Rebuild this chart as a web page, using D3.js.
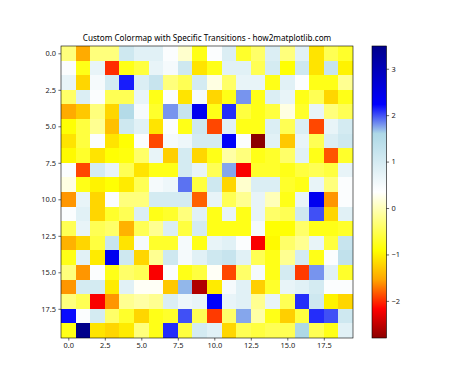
<!DOCTYPE html>
<html><head><meta charset="utf-8">
<script src="https://cdn.jsdelivr.net/npm/d3@7"></script>
<style>html,body{margin:0;padding:0;background:#fff;}svg{display:block;font-family:"Noto Sans",sans-serif;}</style>
</head><body>
<script>
const title = "Custom Colormap with Specific Transitions - how2matplotlib.com";
const cmapColors = ["darkred","red","orange","yellow","white","lightblue","blue","darkblue"];
const cmapStops = [0,0.1,0.2,0.3,0.5,0.7,0.8,1];
const axisTicks = [0,2.5,5,7.5,10,12.5,15,17.5];
const cbarTicks = [-2,-1,0,1,2,3];
const rows = [
 [-0.3,-1.5,-0.3,-0.3,1.1,0.8,0.8,0.4,0.1,-0.8, 0.4,0.9,-0.7,-0.4,0.9,-0.3,0.8,-1.1,-0.5,-0.7],
 [0.4,-0.8,0.7,-2.0,-0.8,-0.6,0.7,0.5,1.1,-1.1, -0.8,0.8,0.8,-0.5,1.0,-0.9,1.1,-1.1,1.2,-1.0],
 [0.7,-1.2,0.5,1.0,2.15,0.9,1.2,-0.3,-0.5,1.0, 0.2,-0.4,0.7,0.7,-0.8,0.8,0.4,-0.8,-0.8,-0.2],
 [-0.4,0.9,0.4,-0.5,-0.5,0.7,-0.8,0.4,-1.1,0.5, -1.2,-0.8,1.8,-0.8,0.9,0.7,-0.8,-0.5,-1.2,-0.8],
 [-1.5,-1.3,-0.3,-1.2,1.5,0.5,-0.7,1.8,1.2,2.4, -0.8,2.1,-0.6,-0.8,-0.6,0.2,-0.7,0.7,-0.3,-0.5],
 [-0.9,-0.6,-0.2,-1.35,1.1,0.8,-1.1,0.4,-0.8,1.1, -1.9,0.8,-0.8,-0.8,0.9,-0.5,0.9,-1.9,0.7,1.0],
 [-1.1,-0.6,0.4,-1.1,-0.9,0.4,-1.9,0.5,0.6,1.0, 1.0,2.3,0.4,-2.8,0.8,-1.3,0.7,-0.5,0.9,1.1],
 [-0.95,-0.7,-1.1,-0.9,-0.85,-0.4,0.7,-1.25,1.0,-1.2, -0.8,-0.1,-0.3,-0.8,-0.7,-0.4,0.8,-0.8,-1.85,-0.7],
 [0.4,-1.9,1.0,0.7,-0.5,-1.1,-0.8,-0.8,1.0,0.7, -0.5,1.75,-2.2,-0.7,-0.7,-0.8,-0.6,-0.5,-0.6,0.7],
 [0.2,-0.8,-1.0,-0.9,-1.05,-0.5,0.5,0.6,1.9,-0.6, 1.1,-1.2,0.1,0.9,0.9,-0.7,-0.8,0.7,-0.3,0.4],
 [-1.6,0.7,-1.2,0.4,-0.3,-0.3,1.0,1.0,1.0,-1.8, 0.7,-0.5,-0.2,0.7,0.0,-0.8,0.7,2.4,-1.6,0.4],
 [0.4,0.8,-1.2,-0.7,-0.5,0.9,-0.8,-0.7,-0.3,0.8, -0.8,0.7,-0.8,0.7,-0.4,-0.5,1.1,2.0,-1.2,0.8],
 [-0.5,0.7,-0.5,-0.4,-1.45,-0.5,-0.2,0.9,-0.6,1.0, -0.8,-0.8,-0.8,0.5,-0.9,-0.9,-0.4,-0.8,-0.8,-0.7],
 [-1.45,-1.2,-0.6,1.2,-1.1,0.5,-0.7,-0.7,0.5,-0.8, 0.7,0.8,0.4,-2.2,-0.95,-0.4,-0.2,0.7,-0.6,1.2],
 [-0.8,0.8,-1.05,2.4,1.1,-1.2,-0.2,1.1,0.5,0.8, 1.1,1.2,0.8,-0.5,-0.8,-0.2,1.0,-0.8,0.4,1.3],
 [-0.3,-1.6,0.4,-0.8,-0.4,-0.5,-2.2,0.4,-0.8,-0.6, 0.3,-1.9,-0.4,0.5,-0.8,1.0,-1.95,1.8,0.8,-0.7],
 [-1.6,1.0,1.0,-1.05,0.8,0.3,0.3,-1.3,1.7,-2.6, -1.05,0.5,0.8,-1.25,-0.7,0.7,0.8,1.0,0.4,0.4],
 [-0.3,-0.5,-2.2,-1.6,-0.2,-0.1,-0.2,0.9,0.6,0.7, 2.25,0.7,0.8,-0.2,0.7,-0.5,2.1,1.1,-1.0,-1.2],
 [2.2,0.4,1.0,-0.4,-0.7,-1.2,-0.8,-0.7,2.0,-0.5, -1.95,-0.4,1.75,-0.1,-0.8,-1.25,-0.6,2.1,2.0,1.1],
 [-0.8,3.49,-1.1,-1.2,-1.05,-0.3,-0.8,2.1,-0.6,1.0, 0.8,-1.2,-0.5,-0.6,-0.5,-0.5,1.6,-0.5,-0.8,0.8]
];

const W = 474, H = 379;
const svg = d3.select("body").append("svg").attr("width", W).attr("height", H);
const plotLeft = 61, plotTop = 46, plotSize = 292;
const n = rows.length;
const all = rows.flat();
const [vmin, vmax] = d3.extent(all);

const color = d3.scaleLinear().domain(cmapStops.map(s=>vmin + s*(vmax-vmin))).range(cmapColors).interpolate(d3.interpolateRgb).clamp(true);

const x = d3.scaleLinear().domain([-0.5, n-0.5]).range([plotLeft, plotLeft+plotSize]);
const y = d3.scaleLinear().domain([-0.5, n-0.5]).range([plotTop, plotTop+plotSize]);

const cells = [];
rows.forEach((r,i)=>r.forEach((v,j)=>cells.push({i,j,v})));
svg.append("g").selectAll("rect").data(cells).join("rect")
  .attr("x", d=>x(d.j-0.5)).attr("y", d=>y(d.i-0.5))
  .attr("width", x(1)-x(0)+0.3).attr("height", y(1)-y(0)+0.3)
  .attr("fill", d=>color(d.v)).attr("shape-rendering","crispEdges");

const fmt = d=>d.toFixed(1);
const xAxis = d3.axisBottom(x).tickValues(axisTicks).tickFormat(fmt).tickSize(2.6).tickPadding(2.5);
const yAxis = d3.axisLeft(y).tickValues(axisTicks).tickFormat(fmt).tickSize(2.6).tickPadding(2.5);
const gx = svg.append("g").attr("transform",`translate(0,${plotTop+plotSize})`).call(xAxis);
const gy = svg.append("g").attr("transform",`translate(${plotLeft},0)`).call(yAxis);
[gx,gy].forEach(g=>{g.select(".domain").remove();g.selectAll("text").attr("font-size",7.4).attr("font-family","Noto Sans").attr("fill","#222");g.selectAll("line").attr("stroke","#000").attr("stroke-width",0.6);});

svg.append("rect").attr("x",plotLeft).attr("y",plotTop).attr("width",plotSize).attr("height",plotSize)
  .attr("fill","none").attr("stroke","#000").attr("stroke-width",0.6);

const t = svg.append("text").attr("x", plotLeft+plotSize/2).attr("y", plotTop-5.5).attr("text-anchor","middle")
  .attr("font-size",9).attr("fill","#000").attr("font-family","Noto Sans").text(title);
const tw = t.node().getComputedTextLength();
t.attr("font-size", 9*249/tw);

// colorbar
const cbX = 372, cbW = 14.5, cbTop = 46, cbH = 292;
const cy = d3.scaleLinear().domain([vmin, vmax]).range([cbTop+cbH, cbTop]);
const defs = svg.append("defs");
const grad = defs.append("linearGradient").attr("id","cg").attr("x1",0).attr("y1",1).attr("x2",0).attr("y2",0);
grad.selectAll("stop").data(cmapStops).join("stop")
  .attr("offset", d=>d).attr("stop-color", (d,i)=>cmapColors[i]);
svg.append("rect").attr("x",cbX).attr("y",cbTop).attr("width",cbW).attr("height",cbH).attr("fill","url(#cg)")
  .attr("stroke","#000").attr("stroke-width",0.6);
const cAxis = d3.axisRight(cy).tickValues(cbarTicks).tickFormat(d=>d<0?"\u2212"+Math.abs(d):d).tickSize(2.6).tickPadding(2.5);
const gc = svg.append("g").attr("transform",`translate(${cbX+cbW},0)`).call(cAxis);
gc.select(".domain").remove();
gc.selectAll("text").attr("font-size",7.4).attr("font-family","Noto Sans").attr("fill","#222");
gc.selectAll("line").attr("stroke","#000").attr("stroke-width",0.6);
</script>
</body></html>
